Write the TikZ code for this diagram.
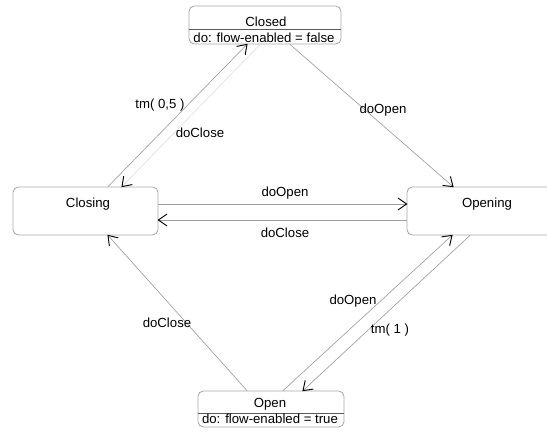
\documentclass[tikz,border=0pt]{standalone}
\usepackage{fontspec}
\setmainfont{Liberation Sans}
\usetikzlibrary{calc,decorations.markings}
\begin{document}
\begin{tikzpicture}[x=0.75pt,y=0.75pt,
  font=\fontsize{9.9}{12}\selectfont,
  state/.style={draw=gray!70, line width=0.6pt, rounded corners=4pt, inner sep=0pt},
  divider/.style={draw=black!65, line width=0.7pt},
  openhead/.style={postaction={decorate, decoration={markings,
    mark=at position 1 with {\draw[black, line width=0.7pt, solid]
      (-6.5pt,4.5pt) -- (0pt,0pt) -- (-6.5pt,-4.5pt);}}}},
  trans/.style={draw=gray!75, line width=0.5pt, openhead},
  faint/.style={draw=gray!25},
  lbl/.style={inner sep=1pt}]
\useasboundingbox (0,-432) rectangle (547,0);
\clip (0,-432) rectangle (547,0);

% states
\node[state, minimum width=114pt, minimum height=28.5pt] (closed) at (265,-25) {};
\draw[divider] ($(closed.west)+(0,-4)$) -- ($(closed.east)+(0,-4)$);
\node[lbl] (closedname) at (266,-22) {Closed};
\node[lbl] (closeddo) at (264,-37.5) {do: flow-enabled = false};

\node[state, minimum width=108.75pt, minimum height=36pt] (closing) at (85.5,-211) {};
\node[lbl, anchor=base] (closingname) at (88,-207) {Closing};

\node[state, minimum width=120pt, minimum height=36pt] (opening) at (487,-211) {};
\node[lbl, anchor=base] (openingname) at (487,-207) {Opening};

\node[state, minimum width=109.5pt, minimum height=27pt] (open) at (271,-409) {};
\draw[divider] ($(open.west)+(0,-4)$) -- ($(open.east)+(0,-4)$);
\node[lbl, anchor=base] (openname) at (270,-407) {Open};
\node[lbl, anchor=base] (opendo) at (270,-423) {do: flow-enabled = true};

% transitions
\draw[trans] ($(closing.north)+(22.5,0)$) -- ($(closed.south)+(-18,0)$);
\draw[trans, faint] ($(closed.south)+(-5,0)$) -- ($(closing.north)+(36.5,0)$);
\draw[trans] ($(closed.south)+(25,0)$) -- ($(opening.north)+(-34,0)$);
\draw[trans] ($(closing.east)+(0,7)$) -- ($(opening.west)+(0,7)$);
\draw[trans] ($(opening.west)+(0,-9)$) -- ($(closing.east)+(0,-9)$);
\draw[trans] ($(open.north)+(-24,0)$) -- ($(closing.south)+(22.5,0)$);
\draw[trans] ($(open.north)+(12,0)$) -- ($(opening.south)+(-35,0)$);
\draw[trans] ($(opening.south)+(-17,0)$) -- ($(open.north)+(32,0)$);

% transition labels
\node[lbl] (l1) at (160,-105) {tm( 0,5 )};
\node[lbl] (l2) at (200,-133) {doClose};
\node[lbl] (l3) at (383,-110) {doOpen};
\node[lbl] (l4) at (285,-193) {doOpen};
\node[lbl] (l5) at (285,-233) {doClose};
\node[lbl] (l6) at (167,-323) {doClose};
\node[lbl] (l7) at (353,-301) {doOpen};
\node[lbl] (l8) at (390,-330) {tm( 1 )};
\end{tikzpicture}
\end{document}
